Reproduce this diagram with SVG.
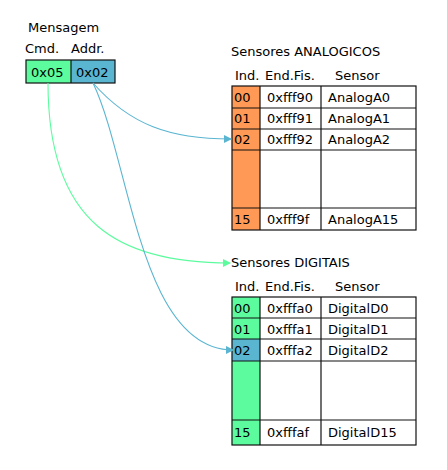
<svg xmlns="http://www.w3.org/2000/svg" width="447" height="470" viewBox="0 0 447 470">
<style>
text{font-family:"DejaVu Sans",sans-serif;font-size:13px;fill:#000}
.g{fill:#5cfc9e}
.b{fill:#5ab5d1}
.o{fill:#ff9955}
.cell{fill:none;stroke:#111;stroke-width:1.2}
.ln{fill:none;stroke-width:1.1}
</style>
<defs>
<marker id="ab" markerWidth="8" markerHeight="8" refX="7" refY="4" orient="auto" markerUnits="userSpaceOnUse"><path d="M0,0L8,4L0,8z" fill="#5ab5d1"/></marker>
<marker id="ag" markerWidth="8" markerHeight="8" refX="7" refY="4" orient="auto" markerUnits="userSpaceOnUse"><path d="M0,0L8,4L0,8z" fill="#5cfc9e"/></marker>
</defs>
<rect width="447" height="470" fill="#fff"/>
<g id="mensagem">
<text x="28" y="32">Mensagem</text>
<text x="25" y="53">Cmd.</text>
<text x="71" y="53">Addr.</text>
<rect x="26" y="60" width="45" height="23" class="g"/>
<rect x="71" y="60" width="44" height="23" class="b"/>
<rect x="26" y="60" width="89" height="23" class="cell"/>
<line x1="71" y1="60" x2="71" y2="83" class="cell"/>
<text x="31" y="77">0x05</text>
<text x="76" y="77">0x02</text>
</g>
<g id="analogicos">
<text x="231" y="56">Sensores ANALOGICOS</text>
<text x="235" y="80">Ind.</text>
<text x="265" y="80">End.Fis.</text>
<text x="335" y="80">Sensor</text>
<rect x="232" y="86" width="28" height="144" class="o"/>
<rect x="232" y="86" width="184" height="144" class="cell"/>
<line x1="260" y1="86" x2="260" y2="230" class="cell"/>
<line x1="321" y1="86" x2="321" y2="230" class="cell"/>
<line x1="232" y1="108" x2="416" y2="108" class="cell"/>
<line x1="232" y1="129" x2="416" y2="129" class="cell"/>
<line x1="232" y1="150" x2="416" y2="150" class="cell"/>
<line x1="232" y1="208" x2="416" y2="208" class="cell"/>
<text x="234" y="102">00</text><text x="267" y="102">0xfff90</text><text x="328" y="102">AnalogA0</text>
<text x="234" y="123">01</text><text x="267" y="123">0xfff91</text><text x="328" y="123">AnalogA1</text>
<text x="234" y="144">02</text><text x="267" y="144">0xfff92</text><text x="328" y="144">AnalogA2</text>
<text x="234" y="224">15</text><text x="267" y="224">0xfff9f</text><text x="328" y="224">AnalogA15</text>
</g>
<g id="digitais">
<text x="231" y="267">Sensores DIGITAIS</text>
<text x="235" y="291">Ind.</text>
<text x="265" y="291">End.Fis.</text>
<text x="335" y="291">Sensor</text>
<rect x="232" y="297" width="28" height="148" class="g"/>
<rect x="232" y="339" width="28" height="22" class="b"/>
<rect x="232" y="297" width="184" height="148" class="cell"/>
<line x1="260" y1="297" x2="260" y2="445" class="cell"/>
<line x1="321" y1="297" x2="321" y2="445" class="cell"/>
<line x1="232" y1="318" x2="416" y2="318" class="cell"/>
<line x1="232" y1="339" x2="416" y2="339" class="cell"/>
<line x1="232" y1="361" x2="416" y2="361" class="cell"/>
<line x1="232" y1="420" x2="416" y2="420" class="cell"/>
<text x="234" y="313">00</text><text x="267" y="313">0xfffa0</text><text x="328" y="313">DigitalD0</text>
<text x="234" y="334">01</text><text x="267" y="334">0xfffa1</text><text x="328" y="334">DigitalD1</text>
<text x="234" y="355">02</text><text x="267" y="355">0xfffa2</text><text x="328" y="355">DigitalD2</text>
<text x="234" y="437">15</text><text x="267" y="437">0xfffaf</text><text x="328" y="437">DigitalD15</text>
</g>
<g id="connectors">
<path class="ln" stroke="#5cfc9e" d="M48,83 C48,225 120,263 230,263" marker-end="url(#ag)"/>
<path class="ln" stroke="#5ab5d1" d="M93,83 C130,125 170,139 231,139" marker-end="url(#ab)"/>
<path class="ln" stroke="#5ab5d1" d="M93,83 C130,160 140,350 233,350" marker-end="url(#ab)"/>
</g>
</svg>
